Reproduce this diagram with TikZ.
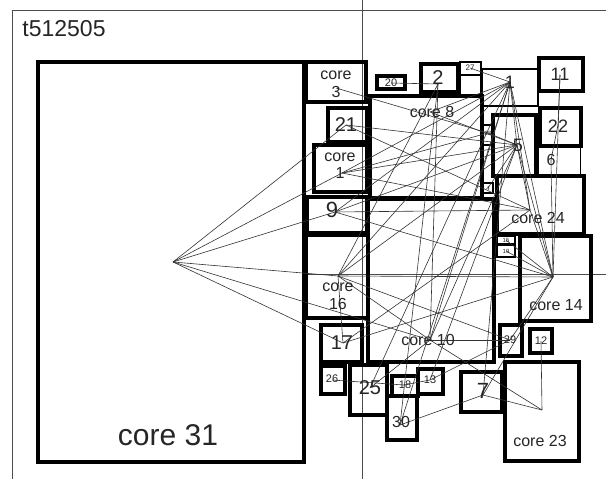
\documentclass[tikz,border=0pt]{standalone}
\usepackage{fontspec}
\setmainfont{Liberation Sans}
\newcommand\blk[6]{%
  \pgfmathsetmacro\bw{#4-#2}\pgfmathsetmacro\bh{#5-#3}%
  \node[#6, minimum width=\bw pt, minimum height=\bh pt] (#1) at ({(#2+#4)/2},{-(#3+#5)/2}) {};}
\newcommand\lbl[5]{\node[txt, font=\fontsize{#4}{#5}\selectfont] (#1) at (#2) {#3};}
\begin{document}
\begin{tikzpicture}[x=1pt,y=1pt,
  blkA/.style={draw, line width=4pt, inner sep=0pt, outer sep=0pt},
  blkB/.style={draw, line width=2.6pt, inner sep=0pt, outer sep=0pt},
  blkC/.style={draw, line width=1pt, inner sep=0pt, outer sep=0pt},
  txt/.style={inner sep=0pt, align=center, text=black!85},
  wire/.style={line width=0.6pt, black!80},
  guide/.style={line width=0.6pt, black!70}]
\useasboundingbox (0,0) rectangle (606,-479);
\fill[white] (0,0) rectangle (606,-479);
% frame and guides
\coordinate (fbl) at (12,-479); \coordinate (ftl) at (12,-10); \coordinate (ftr) at (606,-10);
\draw[guide] (fbl) -- (ftl) -- (ftr);
\coordinate (vt) at (362,0); \coordinate (vb) at (362,-479);
\coordinate (hl) at (306,-274); \coordinate (hr) at (606,-274);
\draw[guide] (vt) -- (vb);
\draw[guide] (hl) -- (hr);
% blocks
\blk{b31}{38}{62}{304}{462}{blkA}
\blk{b3}{306}{62}{366}{102}{blkA}
\blk{b21}{328}{108}{367}{142}{blkA}
\blk{b1c}{314}{145}{367}{192}{blkA}
\blk{b9}{307}{197}{367}{233}{blkA}
\blk{b16}{306}{235}{368}{318}{blkA}
\blk{b17}{321}{325}{362}{362}{blkA}
\blk{b26}{321}{366}{345}{394}{blkA}
\blk{b25}{350}{365}{387}{415}{blkA}
\blk{b18}{392}{376}{418}{396}{blkA}
\blk{b13}{418}{369}{443}{394}{blkA}
\blk{b30}{387}{396}{417}{440}{blkA}
\blk{b10}{368}{199}{494}{362}{blkA}
\blk{b8}{370}{96}{482}{198}{blkA}
\blk{b20}{377}{76}{405}{89}{blkA}
\blk{b2}{421}{64}{458}{92}{blkA}
\blk{b27}{460}{62}{481}{75}{blkB}
\blk{bx}{460}{75}{481}{95}{blkB}
\blk{b1}{482}{69}{538}{106}{blkB}
\blk{b11}{539}{58}{583}{91}{blkA}
\blk{b22}{540}{108}{581}{146}{blkA}
\blk{b6}{538}{146}{580}{176}{blkC}
\blk{b5}{493}{115}{536}{176}{blkA}
\blk{b28}{483}{125}{493}{145}{blkB}
\blk{b4}{483}{183}{493}{193}{blkB}
\blk{b24}{497}{176}{584}{234}{blkA}
\blk{b15}{497}{236}{515}{244}{blkB}
\blk{b19}{497}{245}{515}{257}{blkB}
\blk{b14}{520}{236}{591}{321}{blkA}
\blk{b29}{500}{325}{522}{356}{blkA}
\blk{b12}{530}{329}{552}{353}{blkA}
\blk{b7}{461}{372}{502}{412}{blkA}
\blk{b23}{505}{362}{579}{461}{blkA}
% hubs
\coordinate (c31) at (173,-262);
\coordinate (c3) at (336,-88);
\coordinate (c21) at (346,-125);
\coordinate (c1) at (342,-173);
\coordinate (c9) at (335,-212);
\coordinate (c16) at (338,-276);
\coordinate (c17) at (343,-343);
\coordinate (c26) at (332,-380);
\coordinate (c25) at (370,-388);
\coordinate (c20) at (391,-83);
\coordinate (c2) at (438,-84);
\coordinate (c27) at (470,-68);
\coordinate (c1b) at (510,-82);
\coordinate (c11) at (560,-75);
\coordinate (c22) at (558,-125);
\coordinate (c6) at (551,-160);
\coordinate (c5) at (517,-145);
\coordinate (c28) at (488,-133);
\coordinate (c4) at (488,-188);
\coordinate (c24) at (530,-210);
\coordinate (c15) at (506,-240);
\coordinate (c19) at (506,-251);
\coordinate (c14) at (553,-277);
\coordinate (c8) at (430,-112);
\coordinate (c10) at (430,-340);
\coordinate (c29) at (510,-340);
\coordinate (c12) at (541,-341);
\coordinate (c13) at (430,-380);
\coordinate (c18) at (404,-385);
\coordinate (c30) at (400,-425);
\coordinate (c7) at (483,-395);
\coordinate (c23) at (542,-410);
% connectors
\foreach \a/\b in {c31/c1,c31/c9,c31/c21,c31/c16,c31/c17,c31/c10,
  c3/c28,c21/c5,c21/c24,c1/c5,c1/c1b,c1/c24,c1/c28,
  c9/c5,c9/c24,c9/c14,
  c16/c1b,c16/c2,c16/c5,c16/c14,c16/c10,c16/c29,c16/c17,
  c17/c14,c17/c24,c26/c18,c18/c13,c25/c10,c25/c1b,
  c20/c2,c2/c10,c2/c30,
  c1b/c27,c1b/c8,c1b/c5,c1b/c24,c1b/c14,c1b/c10,c1b/c9,
  c11/c22,c22/c6,c6/c14,c11/c14,
  c5/c24,c5/c14,c5/c10,c5/c13,c5/c28,c5/c4,c5/c8,
  c14/c15,c14/c19,c14/c29,c14/c24,c14/c7,
  c29/c10,c12/c23,c23/c7,c23/c10,c30/c7,c30/c1b,c13/c29,c7/c1b}
  \draw[wire] (\a) -- (\b);
% labels
\lbl{ttl}{64,-29}{t512505}{23}{25}
\lbl{l31}{168,-435}{core 31}{30}{32}
\lbl{l3}{336,-84}{core\\3}{16}{18}
\lbl{l21}{346,-125}{21}{20}{22}
\lbl{l1c}{340,-166}{core\\1}{16}{17}
\lbl{l9}{332,-210}{9}{22}{24}
\lbl{l16}{338,-296}{core\\16}{16}{18}
\lbl{l17}{342,-343}{17}{20}{22}
\lbl{l26}{332,-379}{26}{11}{12}
\lbl{l25}{370,-388}{25}{20}{22}
\lbl{l18}{405,-385}{18}{11}{12}
\lbl{l13}{430,-380}{13}{11}{12}
\lbl{l30}{401,-422}{30}{16}{18}
\lbl{l10}{428,-340}{core 10}{16}{18}
\lbl{l8}{432,-112}{core 8}{16}{18}
\lbl{l20}{391,-83}{20}{11}{12}
\lbl{l2}{438,-78}{2}{20}{22}
\lbl{l27}{470,-68}{27}{8}{9}
\lbl{l1}{510,-82}{1}{18}{20}
\lbl{l11}{560,-74}{11}{18}{20}
\lbl{l22}{558,-126}{22}{18}{20}
\lbl{l6}{551,-160}{6}{16}{18}
\lbl{l5}{518,-145}{5}{18}{20}
\lbl{l28}{488,-133}{28}{6}{7}
\lbl{l4}{488,-188}{4}{6}{7}
\lbl{l24}{538,-218}{core 24}{16}{18}
\lbl{l15}{506,-240}{15}{6}{7}
\lbl{l19}{506,-251}{19}{6}{7}
\lbl{l14}{556,-305}{core 14}{16}{18}
\lbl{l29}{510,-340}{29}{11}{12}
\lbl{l12}{541,-341}{12}{11}{12}
\lbl{l7}{483,-391}{7}{22}{24}
\lbl{l23}{540,-441}{core 23}{16}{18}
\end{tikzpicture}
\end{document}
